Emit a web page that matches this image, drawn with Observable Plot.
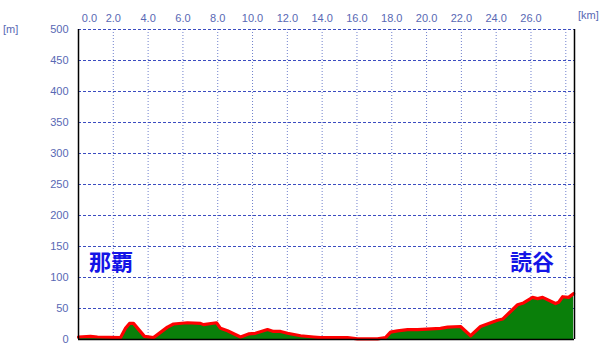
<!DOCTYPE html>
<html><head><meta charset="utf-8">
<script src="https://cdn.jsdelivr.net/npm/d3@7"></script>
<script src="https://cdn.jsdelivr.net/npm/@observablehq/plot@0.6"></script>
<style>
body{margin:0;background:#fff;}
#chart{position:relative;width:600px;height:356px;}
</style>
</head><body><div id="chart"></div>
<script>
const distanceKm = [0,0.69,1.09,2.41,2.70,2.93,3.16,3.79,4.31,5.11,5.46,6.26,7.01,7.18,7.93,8.16,8.56,9.31,9.77,10.17,10.86,11.21,11.61,12.01,12.76,13.51,13.91,14.66,15.46,16.03,17.18,17.64,17.93,18.33,18.91,19.48,20.80,21.21,21.95,22.53,23.10,24.08,24.37,25.23,25.57,26.09,26.38,26.67,27.41,27.59,27.82,28.16,28.45];
const elevationM = [4,5,4,3,18,26,26,5,3,20,25,27,26,24,27,18,14,4,9,10,16,13,13,10,6,4,3,3,3,1,1,3,12,14,16,16,18,20,21,6,21,31,33,56,59,68,66,68,58,60,69,68,74];
const xTicks = [2,4,6,8,10,12,14,16,18,20,22,24,26];
const xGrid = [2,4,6,8,10,12,14,16,18,20,22,24,26,28];
const yTicks = [0,50,100,150,200,250,300,350,400,450,500];
const placeNames = ["那覇","読谷"];
const placeKm = [0.6,24.8];
const placeElev = [123,123];

const data = distanceKm.map((d,i)=>({d, e: elevationM[i]}));
const places = placeNames.map((n,i)=>({n, d: placeKm[i], e: placeElev[i]}));
const xMax = 28.5;
const font = "Liberation Sans, Arial, sans-serif";
const tickColor = "#5868b4";

const chart = Plot.plot({
  width: 600, height: 356,
  marginLeft: 78, marginRight: 26, marginTop: 29, marginBottom: 17,
  style: {fontFamily: font, fontSize: "11px", background: "#fff"},
  x: {domain: [0, xMax], axis: null},
  y: {domain: [0, 500], axis: null},
  marks: [
    Plot.ruleX(xGrid, {stroke: "#7080cc", strokeDasharray: "1,2", strokeWidth: 1}),
    Plot.ruleY(yTicks.filter(v=>v>0), {stroke: "#3b4cc0", strokeDasharray: "3,2", strokeWidth: 1}),
    Plot.areaY(data, {x: "d", y: "e", fill: "#0a7f0a"}),
    Plot.line(data, {x: "d", y: "e", stroke: "#ff0000", strokeWidth: 3.2, strokeLinejoin: "round"}),
    Plot.ruleX([0], {stroke: "#000", strokeWidth: 1.5}),
    Plot.ruleX([xMax], {stroke: "#000", strokeWidth: 1.5}),
    Plot.ruleY([0], {stroke: "#000", strokeWidth: 1.5}),
    Plot.axisY({ticks: yTicks, tickSize: 0, tickPadding: 10, label: null, tickFormat: d=>String(d), fill: tickColor, fontSize: 11}),
    Plot.axisX({anchor: "top", ticks: xTicks, tickSize: 0, tickPadding: 8, label: null, tickFormat: d=>d.toFixed(1), fill: tickColor, fontSize: 11}),
    Plot.text([0], {x: d=>d, frameAnchor: "top", dy: -15, dx: 11, text: d=>d.toFixed(1), fill: tickColor, fontSize: 11}),
    Plot.text(places, {x: "d", y: "e", text: "n", fill: "#1414e6", fontSize: 22, fontWeight: "bold", textAnchor: "start", fontFamily: "Noto Sans CJK JP, sans-serif"})
  ]
});
document.getElementById("chart").appendChild(chart);

const svg = d3.select(chart);
svg.append("text").attr("x", 3).attr("y", 33).attr("text-anchor", "start").attr("fill", tickColor).attr("font-size", 11).attr("font-family", font).text("[m]");
svg.append("text").attr("x", 578).attr("y", 19).attr("text-anchor", "start").attr("fill", tickColor).attr("font-size", 11).attr("font-family", font).text("[km]");
</script>
</body></html>
